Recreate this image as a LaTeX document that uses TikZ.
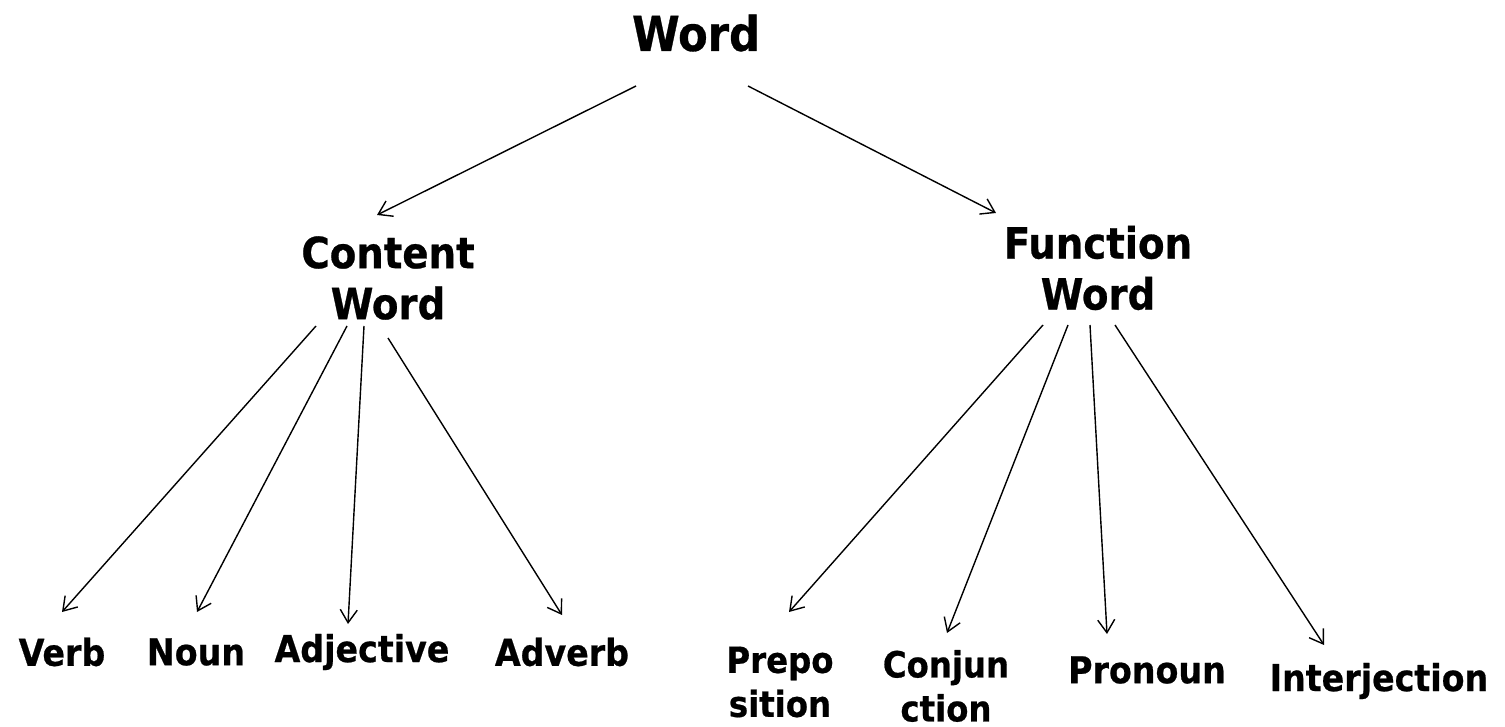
\documentclass[tikz,border=0pt]{standalone}
\usepackage{fontspec}
\setmainfont{DejaVu Sans Condensed}[BoldFeatures={FakeBold=0.6}]
\usetikzlibrary{arrows.meta}
\begin{document}
\begin{tikzpicture}[x=0.5pt,y=-0.5pt,
  lbl/.style={inner sep=0pt, align=center, font=\bfseries},
  big/.style={lbl, font=\fontsize{24}{26}\selectfont\bfseries},
  mid/.style={lbl, font=\fontsize{21.5}{25.5}\selectfont\bfseries},
  leaf/.style={lbl, font=\fontsize{18.5}{21}\selectfont\bfseries},
  small/.style={lbl, font=\fontsize{18}{22}\selectfont\bfseries},
  arr/.style={line width=0.7pt, -{Straight Barb[length=6.5pt,width=8.5pt,line width=0.7pt]}}]
\useasboundingbox (0,0) rectangle (1505,727);
\node[big] (word) at (696,33) {Word};
\node[mid] (content) at (388,278) {Content\\Word};
\node[mid] (function) at (1098,268) {Function\\Word};
\node[leaf] (verb) at (62,652) {Verb};
\node[leaf] (noun) at (196,652) {Noun};
\node[leaf] (adj) at (362,652) {Adjective};
\node[leaf] (adv) at (562,652) {Adverb};
\node[small] (prep) at (780,682) {Prepo\\sition};
\node[small] (conj) at (946,686) {Conjun\\ction};
\node[leaf] (pron) at (1147,670) {Pronoun};
\node[leaf] (inter) at (1379,681) {Interjection};
% connector end points
\coordinate (w1) at (636,86); \coordinate (c0) at (377,215);
\coordinate (w2) at (748,86); \coordinate (f0) at (996,213);
\coordinate (c1) at (316,326); \coordinate (v0) at (62,612);
\coordinate (c2) at (347,326); \coordinate (n0) at (197,612);
\coordinate (c3) at (364,326); \coordinate (a0) at (348,624);
\coordinate (c4) at (388,338); \coordinate (d0) at (562,615);
\coordinate (f1) at (1043,325); \coordinate (p0) at (789,612);
\coordinate (f2) at (1068,325); \coordinate (j0) at (947,633);
\coordinate (f3) at (1090,325); \coordinate (r0) at (1107,634);
\coordinate (f4) at (1115,325); \coordinate (i0) at (1324,645);
\draw[arr] (w1) -- (c0);
\draw[arr] (w2) -- (f0);
\draw[arr] (c1) -- (v0);
\draw[arr] (c2) -- (n0);
\draw[arr] (c3) -- (a0);
\draw[arr] (c4) -- (d0);
\draw[arr] (f1) -- (p0);
\draw[arr] (f2) -- (j0);
\draw[arr] (f3) -- (r0);
\draw[arr] (f4) -- (i0);
\end{tikzpicture}
\end{document}
